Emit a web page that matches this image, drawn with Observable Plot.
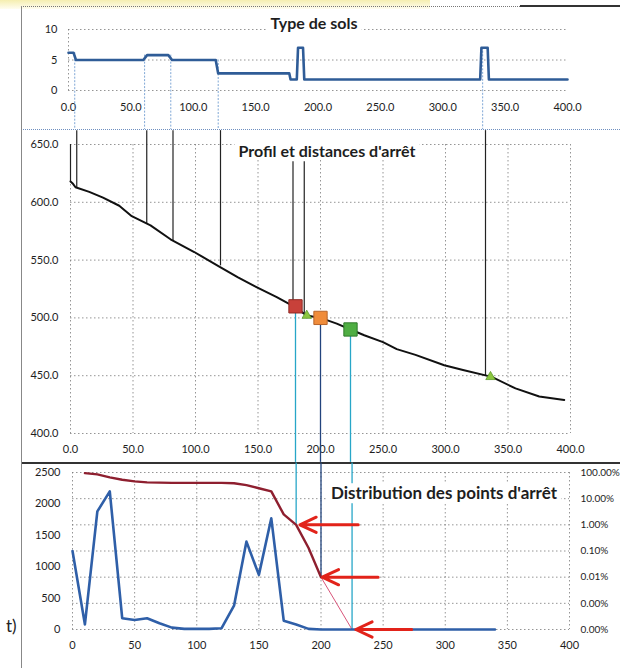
<!DOCTYPE html>
<html><head><meta charset="utf-8">
<script src="https://cdn.jsdelivr.net/npm/d3@7"></script>
<script src="https://cdn.jsdelivr.net/npm/@observablehq/plot@0.6"></script>
<style>
html,body{margin:0;padding:0;background:#fff;}
#page{position:relative;width:620px;height:668px;overflow:hidden;font-family:Lato,"Open Sans",sans-serif;background:#fff;}
.title{position:absolute;background:#fff;font-weight:bold;color:#1e1e1e;white-space:nowrap;transform:translate(-50%,-50%);padding:0 4px;line-height:1.15;}
.hl{position:absolute;}
</style></head><body><div id="page"></div>
<script>
// ---------- data ----------
// Panel 1: soil type along the distance
const soilX    = [0, 4, 6, 60, 63, 80, 83, 118, 120, 177, 178, 183, 184, 188, 189, 330, 331, 336, 337, 400];
const soilType = [6.2, 6.2, 5, 5, 5.8, 5.8, 5, 5, 2.8, 2.8, 1.8, 1.8, 7, 7, 1.8, 1.8, 7, 7, 1.8, 1.8];
const soilChangeX   = [5, 61, 82, 120, 332];
const soilChangeTop = [6.2, 5.8, 5.8, 5, 7];

// Panel 2: elevation profile
const profX = [0, 2, 4, 15, 26, 39, 49, 64, 80, 99, 118, 134, 150, 165, 180, 189, 200, 213, 224, 235, 250, 261, 276, 299, 314, 337, 356, 375, 395];
const profZ = [618, 616, 613, 609, 604, 597, 588, 580, 568, 557, 545, 535, 526, 518, 509, 502, 500, 495, 490, 485, 479, 473, 468, 459, 455, 449, 439, 432, 429];
const dropX      = [0, 5, 61, 82, 120, 178, 187, 332];
const dropTop    = [650, 662, 662, 662, 662, 635, 635, 662];
const dropBottom = [618, 612, 581, 567, 545, 510, 503, 450];
const markerX = [180, 200, 224];
const markerZ = [510, 500, 490];
const markerFill   = ["#c8413a", "#f08c3a", "#4fae43"];
const markerStroke = ["#8e2a24", "#b8652a", "#2f7a2a"];
const markerLine   = ["#27a6c8", "#23447d", "#27a6c8"];
const smallX = [189, 336];
const smallZ = [502, 449];

// Panel 3: distribution of stopping points
const distX = [0, 10, 20, 30, 40, 50, 60, 70, 80, 90, 100, 110, 120, 130, 140, 150, 160, 170, 180, 190, 200, 250, 300, 340];
const distN = [1250, 80, 1880, 2200, 180, 150, 180, 100, 30, 10, 10, 10, 20, 380, 1400, 870, 1770, 140, 80, 10, 0, 0, 0, 0];
const cumX   = [10, 20, 30, 40, 50, 60, 80, 100, 120, 130, 140, 150, 160, 170, 180, 190, 200];
const cumPct = [95, 85, 65, 53, 46, 42, 40, 40, 40, 39, 33, 25, 19, 2.5, 1.0, 0.13, 0.01];
const tailX   = [200, 225];
const tailPct = [0.01, 0.0001];
const pctLevels = [100, 10, 1, 0.1, 0.01, 0.001, 0.0001];
const pctLabels = ["100.00%", "10.00%", "1.00%", "0.10%", "0.01%", "0.00%", "0.00%"];
const arrowPct   = [1, 0.01, 0.0001];
const arrowFromX = [230, 246, 273];
const arrowToX   = [183, 201, 228];
const stopLineX  = [180, 200, 225];

const xTicks     = [0, 50, 100, 150, 200, 250, 300, 350, 400];
const soilTicks  = [0, 5, 10];
const elevTicks  = [400, 450, 500, 550, 600, 650];
const countTicks = [0, 500, 1000, 1500, 2000, 2500];

// ---------- helpers ----------
const page = document.getElementById("page");
const fmt1 = d3.format(".1f");
const grid = {stroke: "#7a7a7a", strokeWidth: 0.8, strokeDasharray: "1.5,2.5"};
const baseStyle = {fontFamily: "Lato, 'Open Sans', sans-serif", fontSize: "11px", color: "#1e1e1e", background: "transparent", overflow: "visible"};
const pctToY = p => 2500 + Math.log10(p / 100) * 2500 / 6;

function place(el, top) { el.style.position = "absolute"; el.style.left = "0px"; el.style.top = top + "px"; page.appendChild(el); }
function title(text, cx, cy, size) {
  const d = document.createElement("div"); d.className = "title"; d.textContent = text;
  d.style.left = cx + "px"; d.style.top = cy + "px"; d.style.fontSize = size + "px"; page.appendChild(d);
}
function line(x, y, w, h, css) {
  const d = document.createElement("div"); d.className = "hl";
  Object.assign(d.style, {left: x + "px", top: y + "px", width: w + "px", height: h + "px"}, css); page.appendChild(d);
}

// scan tint and frames
line(0, 0, 430, 9, {background: "linear-gradient(#f5eeb0, #fffdf0)"});
line(21, 6, 599, 0, {borderTop: "1px dotted #777"});
line(520, 5, 100, 2, {background: "#333"});
line(21, 129, 599, 0, {borderTop: "1px dotted #6f8fc0"});
line(21, 462, 599, 2, {background: "#333"});
line(21, 6, 0, 662, {borderLeft: "1px solid #888"});

// ---------- panel 1 ----------
const soil = soilX.map((x, i) => ({x, y: soilType[i]}));
place(Plot.plot({
  width: 620, height: 129, marginLeft: 68, marginRight: 53, marginTop: 29, marginBottom: 39,
  style: baseStyle,
  x: {domain: [0, 400], ticks: xTicks, tickFormat: fmt1, tickSize: 0, tickPadding: 13, label: null},
  y: {domain: [0, 10], ticks: soilTicks, tickSize: 0, tickPadding: 11, label: null},
  marks: [
    Plot.ruleY(soilTicks, grid),
    Plot.ruleX([0], grid),
    Plot.ruleX(soilChangeX, {x: d => d, y1: (d, i) => soilChangeTop[i], y2: -6.4, stroke: "#7fa7d6", strokeWidth: 1, strokeDasharray: "2,1.5"}),
    Plot.line(soil, {x: "x", y: "y", stroke: "#2f5c97", strokeWidth: 2.6, strokeLinejoin: "round"})
  ]
}), 0);
title("Type de sols", 314, 23, 16);

// ---------- panel 2 ----------
const prof = profX.map((x, i) => ({x, z: profZ[i]}));
const drops = dropX.map((x, i) => ({x, y1: dropTop[i], y2: dropBottom[i]}));
const markers = markerX.map((x, i) => ({x, z: markerZ[i], fill: markerFill[i], stroke: markerStroke[i], line: markerLine[i]}));
const smalls = smallX.map((x, i) => ({x, z: smallZ[i]}));
place(Plot.plot({
  width: 620, height: 337, marginLeft: 70, marginRight: 50, marginTop: 19, marginBottom: 29,
  style: baseStyle,
  x: {domain: [0, 400], ticks: xTicks, tickFormat: fmt1, tickSize: 0, tickPadding: 12, label: null},
  y: {domain: [400, 650], ticks: elevTicks, tickFormat: fmt1, tickSize: 0, tickPadding: 12, label: null},
  marks: [
    Plot.ruleY(elevTicks, grid),
    Plot.ruleX(xTicks, grid),
    Plot.ruleX(drops, {x: "x", y1: "y1", y2: "y2", stroke: "#222", strokeWidth: 1.2}),
    Plot.ruleX(markers, {x: "x", y1: "z", y2: 375, stroke: "line", strokeWidth: 1.3}),
    Plot.line(prof, {x: "x", y: "z", stroke: "#111", strokeWidth: 2, strokeLinejoin: "round"}),
    Plot.dot(smalls, {x: "x", y: "z", symbol: "triangle", r: 3.5, fill: "#8cc63f", stroke: "#5c9a2a", strokeWidth: 0.8}),
    Plot.dot(markers, {x: "x", y: "z", symbol: "square", r: 7.5, fill: "fill", stroke: "stroke", strokeWidth: 1})
  ]
}), 125);
title("Profil et distances d'arrêt", 327, 151, 16);

// ---------- panel 3 ----------
const dist = distX.map((x, i) => ({x, n: distN[i]}));
const cum = cumX.map((x, i) => ({x, y: pctToY(cumPct[i])}));
const tail = tailX.map((x, i) => ({x, y: pctToY(tailPct[i])}));
const arrows = arrowPct.map((p, i) => ({x1: arrowFromX[i], x2: arrowToX[i], y: pctToY(p)}));
const stops = stopLineX.map((x, i) => ({x, y2: pctToY(arrowPct[i]), c: markerLine[i]}));
const pctY = pctLevels.map(pctToY);
const pctLab = new Map(pctY.map((v, i) => [v, pctLabels[i]]));
place(Plot.plot({
  width: 620, height: 205, marginLeft: 72, marginRight: 51, marginTop: 9, marginBottom: 39,
  style: baseStyle,
  x: {domain: [0, 400], ticks: xTicks, tickFormat: d3.format("d"), tickSize: 0, tickPadding: 12, label: null},
  y: {domain: [0, 2500], label: null},
  marks: [
    Plot.ruleY(pctY, grid),
    Plot.ruleX(xTicks, grid),
    Plot.axisY({anchor: "left", ticks: countTicks, tickFormat: d3.format("d"), tickSize: 0, tickPadding: 12, label: null}),
    Plot.axisY({anchor: "right", ticks: pctY, tickFormat: d => pctLab.get(d), tickSize: 0, tickPadding: 11, label: null, textAnchor: "start", fontSize: 10}),
    Plot.ruleX(stops, {x: "x", y1: 2650, y2: "y2", stroke: "c", strokeWidth: 1.3}),
    Plot.line(tail, {x: "x", y: "y", stroke: "#d9557a", strokeWidth: 1}),
    Plot.line(cum, {x: "x", y: "y", stroke: "#8e1f2f", strokeWidth: 2.4, strokeLinejoin: "round"}),
    Plot.line(dist, {x: "x", y: "n", stroke: "#2f5fa8", strokeWidth: 2.6, strokeLinejoin: "round"}),
    Plot.arrow(arrows, {x1: "x1", x2: "x2", y1: "y", y2: "y", stroke: "#e2231a", strokeWidth: 3, headLength: 9, headAngle: 50})
  ]
}), 463);
title("Distribution des points d'arrêt", 444, 493, 17);

// stray text on the scanned page
const t = document.createElement("div");
Object.assign(t.style, {position: "absolute", left: "6px", top: "615px", fontSize: "17px", color: "#222"});
t.textContent = "t)"; page.appendChild(t);
</script></body></html>
